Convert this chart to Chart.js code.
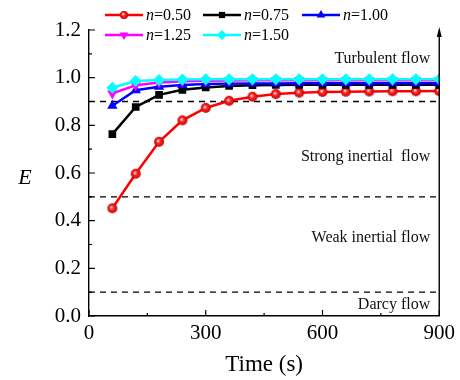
<!DOCTYPE html>
<html>
<head>
<meta charset="utf-8">
<script src="https://cdn.jsdelivr.net/npm/chart.js@4/dist/chart.umd.min.js"></script>
<style>
  html, body { margin: 0; padding: 0; background: #fff; }
  #wrap { width: 460px; height: 380px; }
</style>
</head>
<body>
<div id="wrap"><canvas id="chart" width="460" height="380"></canvas></div>
<script>
// Data
const times = [60, 120, 180, 240, 300, 360, 420, 480, 540, 600, 660, 720, 780, 840, 900];
const e050 = [0.452, 0.597, 0.731, 0.821, 0.873, 0.903, 0.920, 0.931, 0.937, 0.940, 0.941, 0.942, 0.943, 0.943, 0.944];
const e075 = [0.763, 0.877, 0.928, 0.949, 0.959, 0.965, 0.968, 0.969, 0.970, 0.970, 0.970, 0.970, 0.970, 0.970, 0.970];
const e100 = [0.882, 0.947, 0.962, 0.969, 0.973, 0.975, 0.976, 0.976, 0.977, 0.977, 0.977, 0.977, 0.977, 0.977, 0.977];
const e125 = [0.934, 0.968, 0.980, 0.985, 0.987, 0.988, 0.989, 0.989, 0.989, 0.989, 0.989, 0.989, 0.989, 0.989, 0.989];
const e150 = [0.958, 0.986, 0.990, 0.992, 0.993, 0.993, 0.993, 0.993, 0.993, 0.993, 0.993, 0.993, 0.993, 0.993, 0.993];
const regimeLines = [0.9, 0.5, 0.1];
const regimeLabels = ['Turbulent flow', 'Strong inertial  flow', 'Weak inertial flow', 'Darcy flow'];
const regimeLabelY = [1.08, 0.67, 0.33, 0.045];
const xTicks = [0, 300, 600, 900];

const serif = "'Liberation Serif', 'Times New Roman', serif";

// shaded ball marker for n=0.50
function ballMarker(r) {
  const c = document.createElement('canvas');
  c.width = c.height = r * 2 + 2;
  const g = c.getContext('2d');
  const m = r + 1;
  const grad = g.createRadialGradient(m - 1, m - 1, 0.5, m, m, r);
  grad.addColorStop(0, '#ffd8d8');
  grad.addColorStop(0.35, '#ff2828');
  grad.addColorStop(1, '#c80000');
  g.fillStyle = grad;
  g.beginPath(); g.arc(m, m, r, 0, Math.PI * 2); g.fill();
  return c;
}
const ball = ballMarker(5);
const ballSmall = ballMarker(4);

const series = [
  { label: '0.50', data: e050, color: '#ff0000', style: ball, legStyle: ballSmall, radius: 5, rot: 0 },
  { label: '0.75', data: e075, color: '#000000', style: 'rect', radius: 5.4, rot: 0 },
  { label: '1.00', data: e100, color: '#0000ff', style: 'triangle', radius: 6, rot: 0 },
  { label: '1.25', data: e125, color: '#ff00ff', style: 'triangle', radius: 6, rot: 180 },
  { label: '1.50', data: e150, color: '#00ffff', style: 'rectRot', radius: 6, rot: 0 }
];

const datasets = series.map((s, i) => ({
  label: 'n=' + s.label,
  data: times.map((t, k) => ({ x: t, y: s.data[k] })),
  borderColor: s.color,
  backgroundColor: s.color,
  pointBackgroundColor: s.color,
  pointBorderColor: s.color,
  pointStyle: s.style,
  pointRadius: s.radius,
  pointRotation: s.rot,
  pointBorderWidth: 0,
  borderWidth: 2.5,
  order: 5 - i
}));
regimeLines.forEach(v => {
  datasets.push({
    label: 'regime',
    data: [{ x: 0, y: v }, { x: 900, y: v }],
    borderColor: '#000',
    borderWidth: 1.3,
    borderDash: [6, 5],
    pointRadius: 0,
    order: 10
  });
});

// inward ticks, right border with arrow, regime labels, y title, legend
const decor = {
  id: 'decor',
  afterDraw(chart) {
    const ctx = chart.ctx;
    const xs = chart.scales.x, ys = chart.scales.y;
    const a = chart.chartArea;
    ctx.save();
    ctx.strokeStyle = '#000';
    ctx.lineWidth = 1.2;
    ctx.beginPath();
    for (let v = 0; v <= 900; v += 150) {
      const px = xs.getPixelForValue(v);
      const len = v % 300 === 0 ? 6 : 3;
      ctx.moveTo(px, a.bottom); ctx.lineTo(px, a.bottom - len);
    }
    for (let k = 0; k <= 12; k++) {
      const py = ys.getPixelForValue(k / 10);
      const len = k % 2 === 0 ? 6 : 3;
      ctx.moveTo(a.left, py); ctx.lineTo(a.left + len, py);
    }
    ctx.stroke();

    // right border with arrow to top
    ctx.lineWidth = 1.4;
    ctx.beginPath();
    ctx.moveTo(a.right, a.bottom); ctx.lineTo(a.right, a.top + 4);
    ctx.stroke();
    ctx.fillStyle = '#000';
    ctx.beginPath();
    ctx.moveTo(a.right, a.top - 3);
    ctx.lineTo(a.right - 2.5, a.top + 7);
    ctx.lineTo(a.right + 2.5, a.top + 7);
    ctx.closePath(); ctx.fill();

    // regime labels
    ctx.font = '16px ' + serif;
    ctx.fillStyle = '#111';
    ctx.textAlign = 'right';
    ctx.textBaseline = 'middle';
    regimeLabels.forEach((t, i) => {
      ctx.fillText(t, a.right - 9, ys.getPixelForValue(regimeLabelY[i]));
    });

    // y axis title, upright
    ctx.fillStyle = '#000';
    ctx.textAlign = 'center';
    ctx.font = 'italic 22px ' + serif;
    ctx.fillText('E', 25, (a.top + a.bottom) / 2 + 5);

    // legend
    const pos = [[105, 15], [203, 15], [302, 15], [105, 35], [203, 35]];
    series.forEach((s, i) => {
      const [x0, y0] = pos[i];
      ctx.strokeStyle = s.color;
      ctx.lineWidth = 2.5;
      ctx.beginPath(); ctx.moveTo(x0, y0); ctx.lineTo(x0 + 38, y0); ctx.stroke();
      ctx.fillStyle = s.color;
      Chart.helpers.drawPoint(ctx, { pointStyle: s.legStyle || s.style, radius: s.radius - 1, rotation: s.rot, borderWidth: 0 }, x0 + 19, y0);
      ctx.fillStyle = '#000';
      ctx.textAlign = 'left';
      ctx.font = 'italic 16px ' + serif;
      ctx.fillText('n', x0 + 41, y0 + 1);
      const w = ctx.measureText('n').width;
      ctx.font = '16px ' + serif;
      ctx.fillText('=' + s.label, x0 + 41 + w, y0 + 1);
    });
    ctx.restore();
  }
};

new Chart(document.getElementById('chart'), {
  type: 'line',
  data: { datasets },
  options: {
    responsive: false,
    animation: false,
    layout: { padding: { left: 0, top: 30, right: 19, bottom: 0 } },
    plugins: { legend: { display: false }, tooltip: { enabled: false } },
    scales: {
      x: {
        type: 'linear',
        min: 0, max: 900,
        afterFit(scale) { scale.height = 64; },
        afterBuildTicks(scale) { scale.ticks = xTicks.map(v => ({ value: v })); },
        grid: { display: false, drawTicks: false },
        border: { display: true, color: '#000', width: 1.4 },
        ticks: { color: '#000', padding: 5, maxRotation: 0, font: { family: serif, size: 21 } },
        title: { display: true, text: 'Time (s)', color: '#000', padding: { top: 0, bottom: 1 }, font: { family: serif, size: 23 } }
      },
      y: {
        min: 0, max: 1.2,
        afterFit(scale) { scale.width = 89; },
        grid: { display: false, drawTicks: false },
        border: { display: true, color: '#000', width: 1.4 },
        ticks: { stepSize: 0.2, color: '#000', padding: 8, font: { family: serif, size: 21 }, callback: v => v.toFixed(1) },
        title: { display: false }
      }
    }
  },
  plugins: [decor]
});
</script>
</body>
</html>
